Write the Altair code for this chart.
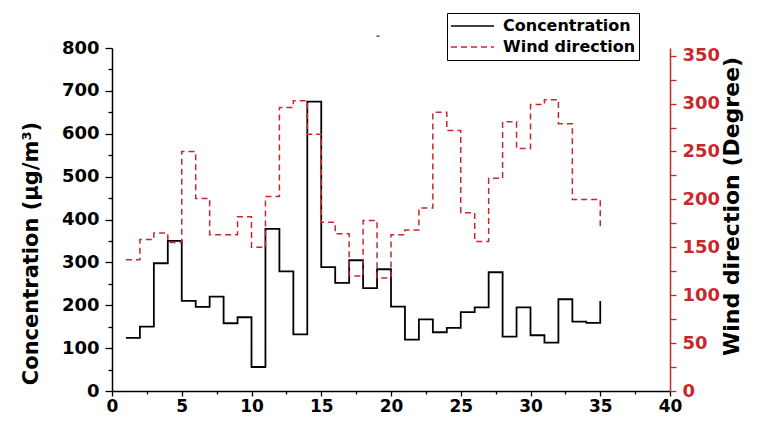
import altair as alt
import pandas as pd

# ---- data ----
days = list(range(1, 36))
concentration = [124, 150, 298, 350, 210, 196, 220, 158, 172, 56,
                 378, 279, 132, 675, 289, 252, 305, 240, 284, 197,
                 120, 167, 137, 147, 184, 195, 277, 127, 195, 130,
                 113, 214, 162, 159, 210]
wind_direction = [137, 158, 165, 155, 250, 201, 163, 163, 182, 150,
                  203, 296, 303, 268, 176, 164, 120, 178, 118, 163,
                  168, 191, 291, 272, 186, 156, 222, 281, 253, 299,
                  304, 279, 200, 200, 170]
series_names = ["Concentration", "Wind direction"]
x_tick_values = [0, 2.5, 5, 7.5, 10, 12.5, 15, 17.5, 20, 22.5, 25, 27.5,
                 30, 32.5, 35, 37.5, 40]
left_tick_values = [0, 50, 100, 150, 200, 250, 300, 350, 400, 450, 500,
                    550, 600, 650, 700, 750, 800]
right_tick_values = [0, 25, 50, 75, 100, 125, 150, 175, 200, 225, 250,
                     275, 300, 325, 350]

RED = "#c8282b"
FONT = "DejaVu Sans"

conc_df = pd.DataFrame({"day": days, "value": concentration, "series": series_names[0]})
wind_df = pd.DataFrame({"day": days, "value": wind_direction, "series": series_names[1]})

legend = alt.Legend(
    title=None, orient="none", legendX=335, legendY=-35,
    strokeColor="black", fillColor="white", padding=3, rowPadding=1, clipHeight=20,
    labelFont=FONT, labelFontSize=16, labelFontWeight="bold", labelColor="black",
    symbolType="stroke", symbolSize=1850, symbolStrokeWidth=1.5, labelOffset=8,
)
color = alt.Color("series:N", scale=alt.Scale(domain=series_names, range=["#000000", RED]), legend=legend)
dash = alt.StrokeDash("series:N", scale=alt.Scale(domain=series_names, range=[[1, 0], [6, 4]]), legend=legend)

x_enc = alt.X(
    "day:Q", scale=alt.Scale(domain=[0, 40], nice=False),
    axis=alt.Axis(
        values=x_tick_values, title=None, grid=False,
        labelExpr="datum.value % 5 === 0 ? datum.label : ''",
        domainColor="black", domainWidth=1.5, tickColor="black", tickWidth=1.3,
        tickSize={"condition": {"test": "datum.value % 5 === 0", "value": 5}, "value": 3},
        labelFont=FONT, labelFontSize=17, labelFontWeight="bold", labelColor="black",
        labelPadding=2, labelFlush=False, labelOverlap=False,
    ),
)

conc_line = alt.Chart(conc_df).mark_line(interpolate="step-after", strokeWidth=1.8).encode(
    x=x_enc,
    y=alt.Y(
        "value:Q", scale=alt.Scale(domain=[0, 800], nice=False),
        axis=alt.Axis(
            values=left_tick_values, orient="left", grid=False,
            labelExpr="datum.value % 100 === 0 ? datum.label : ''",
            title="Concentration (μg/m³)", titleFont=FONT, titleFontSize=21,
            titleFontWeight="bold", titleColor="black",
            titleX=-75, titleY=205, titleAngle=270, titleBaseline="alphabetic", titleAlign="center",
            domainColor="black", domainWidth=1.5, tickColor="black", tickWidth=1.3,
            tickSize={"condition": {"test": "datum.value % 100 === 0", "value": 7}, "value": 4},
            labelFont=FONT, labelFontSize=18, labelFontWeight="bold", labelColor="black",
            labelPadding=6, labelOverlap=False,
        ),
    ),
    color=color, strokeDash=dash,
)

wind_line = alt.Chart(wind_df).mark_line(interpolate="step-after", strokeWidth=1.5).encode(
    x=x_enc,
    y=alt.Y(
        "value:Q", scale=alt.Scale(domain=[0, 358], nice=False),
        axis=alt.Axis(
            values=right_tick_values, orient="right", grid=False,
            labelExpr="datum.value % 50 === 0 ? datum.label : ''",
            title="Wind direction (Degree)", titleFont=FONT, titleFontSize=22,
            titleFontWeight="bold", titleColor="black",
            titleX=68, titleY=158, titleAngle=270, titleBaseline="alphabetic", titleAlign="center",
            domainColor=RED, domainWidth=1.5, tickColor=RED, tickWidth=1.3,
            tickSize=6,
            labelFont=FONT, labelFontSize=18, labelFontWeight="bold", labelColor=RED,
            labelPadding=6, labelOverlap=False,
        ),
    ),
    color=color, strokeDash=dash,
)

chart = alt.layer(conc_line, wind_line).resolve_scale(y="independent").properties(
    width=558, height=343,
    padding={"left": 104, "top": 40, "right": 78, "bottom": 24},
    autosize=alt.AutoSizeParams(type="none"),
    title=alt.TitleParams(text="-", fontSize=12, color="#666666", anchor="middle", dx=-13, offset=-30),
).configure_view(stroke=None)

chart.save("out.html", embed_options={"renderer": "svg", "actions": False})
